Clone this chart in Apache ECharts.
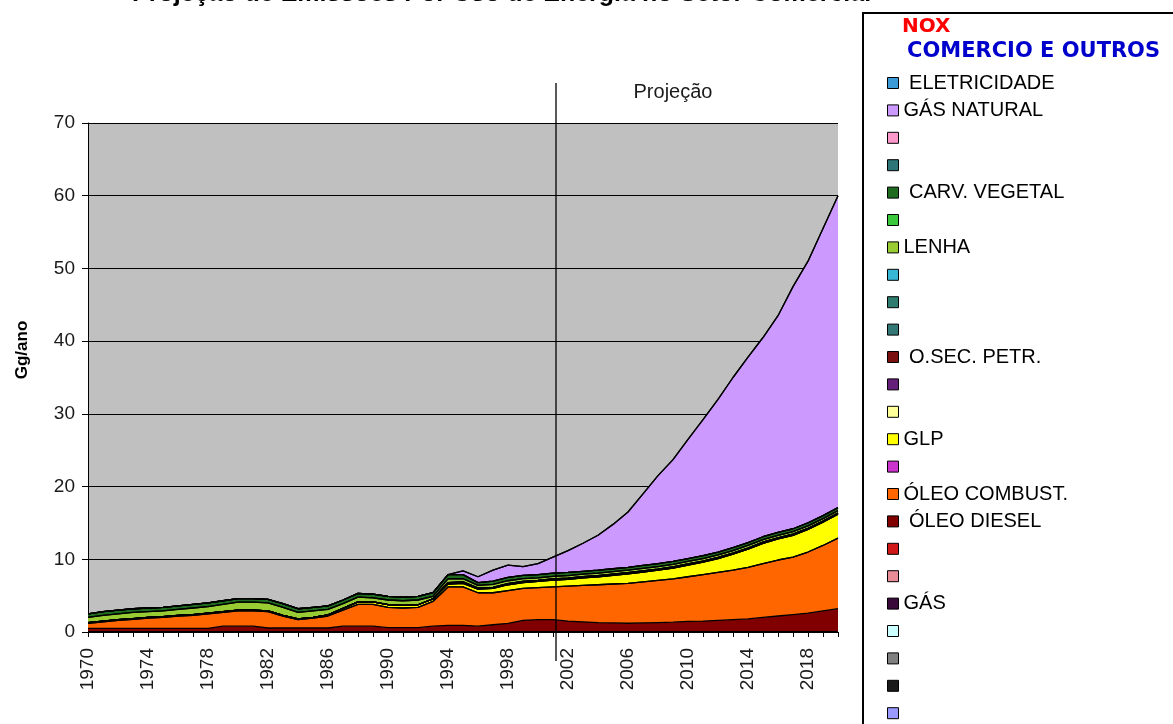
<!DOCTYPE html>
<html>
<head>
<meta charset="utf-8">
<script src="https://cdn.jsdelivr.net/npm/echarts@6/dist/echarts.min.js"></script>
<style>
  html, body { margin: 0; padding: 0; background: #ffffff; }
  #chart { width: 1173px; height: 724px; }
</style>
</head>
<body>
<div id="chart"></div>
<script>
// Years on the horizontal axis
const years = ['1970','1971','1972','1973','1974','1975','1976','1977','1978','1979',
  '1980','1981','1982','1983','1984','1985','1986','1987','1988','1989',
  '1990','1991','1992','1993','1994','1995','1996','1997','1998','1999',
  '2000','2001','2002','2003','2004','2005','2006','2007','2008','2009',
  '2010','2011','2012','2013','2014','2015','2016','2017','2018','2019','2020'];

// NOx emissions, Gg/ano, by energy source (stack order bottom -> top)
const oleoDiesel = [0.5,0.5,0.5,0.5,0.5,0.5,0.5,0.5,0.5,0.8,
  0.8,0.8,0.55,0.55,0.55,0.55,0.55,0.8,0.8,0.8,
  0.6,0.6,0.6,0.8,0.9,0.9,0.8,1.0,1.2,1.6,
  1.7,1.7,1.5,1.4,1.3,1.25,1.2,1.25,1.3,1.35,
  1.45,1.5,1.6,1.7,1.8,2.0,2.2,2.4,2.6,2.9,3.2];

const oleoCombust = [0.7,0.9,1.1,1.25,1.4,1.5,1.7,1.8,2.0,1.9,
  2.1,2.1,2.25,1.65,1.15,1.35,1.65,2.2,3.0,3.0,
  2.8,2.7,2.8,3.4,5.3,5.3,4.6,4.4,4.5,4.4,
  4.4,4.5,4.8,5.0,5.2,5.35,5.5,5.65,5.8,5.95,
  6.15,6.4,6.6,6.8,7.1,7.4,7.7,7.9,8.4,9.0,9.7];

const glp = [0.1,0.1,0.1,0.1,0.1,0.1,0.1,0.1,0.1,0.1,
  0.1,0.1,0.1,0.1,0.1,0.1,0.15,0.25,0.35,0.35,
  0.35,0.35,0.35,0.35,0.4,0.5,0.5,0.6,0.8,0.8,
  0.85,0.95,0.95,1.05,1.1,1.2,1.3,1.35,1.4,1.5,
  1.6,1.7,1.9,2.2,2.5,2.8,2.9,3.0,3.1,3.2,3.3];

const oSecPetr = [0,0,0,0,0,0,0,0,0,0,
  0,0,0,0,0,0,0,0,0,0,
  0,0,0,0,0.2,0.2,0.15,0.15,0.15,0.15,
  0.15,0.15,0.15,0.15,0.15,0.15,0.15,0.15,0.15,0.15,
  0.15,0.15,0.15,0.15,0.15,0.15,0.15,0.15,0.15,0.15,0.15];

const lenha = [0.7,0.8,0.8,0.85,0.8,0.8,0.8,0.9,0.9,1.0,
  1.1,1.1,1.1,1.1,0.9,0.9,0.75,0.65,0.65,0.55,
  0.65,0.65,0.65,0.35,0.5,0.45,0.35,0.4,0.4,0.4,
  0.35,0.35,0.35,0.35,0.35,0.35,0.35,0.35,0.35,0.35,
  0.35,0.35,0.35,0.35,0.35,0.35,0.35,0.35,0.35,0.35,0.35];

const carvVegetal = [0.5,0.5,0.5,0.5,0.5,0.5,0.5,0.5,0.5,0.5,
  0.5,0.5,0.5,0.5,0.5,0.5,0.5,0.5,0.5,0.5,
  0.5,0.5,0.5,0.5,0.6,0.55,0.4,0.45,0.45,0.45,
  0.45,0.45,0.45,0.4,0.4,0.4,0.4,0.4,0.4,0.4,
  0.4,0.4,0.4,0.4,0.4,0.4,0.4,0.4,0.4,0.4,0.4];

const gasNatural = [0,0,0,0,0,0,0,0,0,0,
  0,0,0,0,0,0,0,0,0,0,
  0,0,0,0,0,0.5,0.8,1.5,1.7,1.2,
  1.5,2.2,3.0,3.85,4.8,6.1,7.6,9.85,12.1,14.0,
  16.4,18.7,21.0,23.4,25.5,27.4,29.8,33.3,36.0,39.5,42.9];

// Sources with no emissions in this sector
const nulo = [0,0,0,0,0,0,0,0,0,0,
  0,0,0,0,0,0,0,0,0,0,
  0,0,0,0,0,0,0,0,0,0,
  0,0,0,0,0,0,0,0,0,0,
  0,0,0,0,0,0,0,0,0,0,0];

// Layers, bottom of the stack first
const layers = [
  { name: 'Série 24', color: '#9999FF', data: nulo },
  { name: 'Série 23', color: '#1A1A1A', data: nulo },
  { name: 'Série 22', color: '#808080', data: nulo },
  { name: 'Série 21', color: '#CCFFFF', data: nulo },
  { name: 'GÁS', color: '#3A0A3A', data: nulo },
  { name: 'Série 19', color: '#E98C98', data: nulo },
  { name: 'Série 18', color: '#D01818', data: nulo },
  { name: ' ÓLEO DIESEL', color: '#800000', data: oleoDiesel },
  { name: 'ÓLEO COMBUST.', color: '#FF6600', data: oleoCombust },
  { name: 'Série 15', color: '#CC33CC', data: nulo },
  { name: 'GLP', color: '#FFFF00', data: glp },
  { name: 'Série 13', color: '#FFFF99', data: nulo },
  { name: 'Série 12', color: '#66207A', data: nulo },
  { name: ' O.SEC. PETR.', color: '#7A1010', data: oSecPetr },
  { name: 'Série 10', color: '#337777', data: nulo },
  { name: 'Série 9', color: '#2E7B70', data: nulo },
  { name: 'Série 8', color: '#38B6D6', data: nulo },
  { name: 'LENHA', color: '#99CC33', data: lenha },
  { name: 'Série 6', color: '#3CC83C', data: nulo },
  { name: ' CARV. VEGETAL', color: '#1F6B1F', data: carvVegetal },
  { name: 'Série 4', color: '#2E7577', data: nulo },
  { name: 'Série 3', color: '#FF99CC', data: nulo },
  { name: 'GÁS NATURAL', color: '#CC99FF', data: gasNatural },
  { name: ' ELETRICIDADE', color: '#3C9BD6', data: nulo }
];

const FONT = 'Liberation Sans, Arial, sans-serif';
const chart = echarts.init(document.getElementById('chart'), null, { renderer: 'canvas' });

const series = layers.map(l => ({
  type: 'line',
  name: l.name,
  data: l.data,
  stack: 'total',
  symbol: 'none',
  smooth: false,
  color: l.color,
  lineStyle: { color: '#000000', width: 1.3 },
  areaStyle: { color: l.color, opacity: 1 },
  emphasis: { disabled: true },
  silent: true
}));

chart.setOption({
  animation: false,
  backgroundColor: '#ffffff',
  grid: {
    left: 88, right: 335, top: 123, bottom: 92,
    show: true, backgroundColor: '#C0C0C0', borderWidth: 0
  },
  xAxis: {
    type: 'category',
    data: years,
    boundaryGap: false,
    axisLine: { lineStyle: { color: '#000', width: 1 } },
    axisTick: { show: true, interval: 0, length: 5, lineStyle: { color: '#000' } },
    axisLabel: {
      interval: 3, rotate: 90, margin: 16,
      fontFamily: FONT, fontSize: 19, color: '#1a1a1a'
    },
    splitLine: { show: false }
  },
  yAxis: {
    type: 'value',
    min: 0, max: 70, interval: 10,
    axisLine: { show: true, lineStyle: { color: '#000', width: 1 } },
    axisTick: { show: true, length: 6, lineStyle: { color: '#000' } },
    axisLabel: { margin: 13, fontFamily: FONT, fontSize: 19, color: '#1a1a1a' },
    splitLine: { show: true, lineStyle: { color: '#000', width: 1 } }
  },
  legend: {
    orient: 'vertical',
    left: 882, top: 68,
    height: 690,
    z: 10,
    icon: 'rect',
    itemWidth: 11, itemHeight: 11,
    itemGap: 7.4,
    selectedMode: false,
    data: layers.map(l => l.name).reverse(),
    itemStyle: { borderColor: '#000', borderWidth: 1 },
    textStyle: { fontFamily: FONT, fontSize: 20, lineHeight: 20, height: 20, color: '#000' },
    formatter: name => (name.indexOf('Série') === 0 ? ' ' : name)
  },
  graphic: [
    {
      id: 'titulo', type: 'text', z: 1,
      left: 132, top: -18,
      style: {
        text: 'Projeção de Emissões Por Uso de Energia no Setor Comercial',
        font: 'bold 25px ' + FONT, fill: '#000'
      }
    },
    {
      id: 'caixa', type: 'rect', z: 2,
      shape: { x: 863, y: 13, width: 330, height: 730 },
      style: { fill: '#ffffff', stroke: '#000', lineWidth: 2 }
    },
    {
      id: 'nox', type: 'text', z: 3,
      left: 902, top: 17,
      style: { text: 'NOX', font: 'bold 20px DejaVu Sans, sans-serif', fill: '#FF0000' }
    },
    {
      id: 'setor', type: 'text', z: 3,
      left: 907, top: 41,
      style: { text: 'COMERCIO E OUTROS', font: 'bold 21px DejaVu Sans, sans-serif', fill: '#0000CC' }
    },
    {
      id: 'ytitulo', type: 'text', z: 3,
      x: 22, y: 350, rotation: Math.PI / 2,
      style: {
        text: 'Gg/ano', font: 'bold 17px ' + FONT, fill: '#000',
        align: 'center', verticalAlign: 'middle'
      }
    }
  ],
  series: series
});

// Marker for the start of the projection period
const x1 = chart.convertToPixel({ xAxisIndex: 0 }, '2001');
const x2 = chart.convertToPixel({ xAxisIndex: 0 }, '2002');
const xLine = x1 + 0.2 * (x2 - x1);
const yTop = chart.convertToPixel({ yAxisIndex: 0 }, 75.5);
const yBottom = chart.convertToPixel({ yAxisIndex: 0 }, -4);

chart.setOption({
  graphic: [
    {
      id: 'marco', type: 'line', z: 5,
      shape: { x1: xLine, y1: yTop, x2: xLine, y2: yBottom },
      style: { stroke: '#000', lineWidth: 1.3 }
    },
    {
      id: 'projecao', type: 'text', z: 5,
      x: xLine + 117, y: yTop + 9,
      style: {
        text: 'Projeção', font: '20px ' + FONT, fill: '#1a1a1a',
        align: 'center', verticalAlign: 'middle'
      }
    }
  ]
});
</script>
</body>
</html>
